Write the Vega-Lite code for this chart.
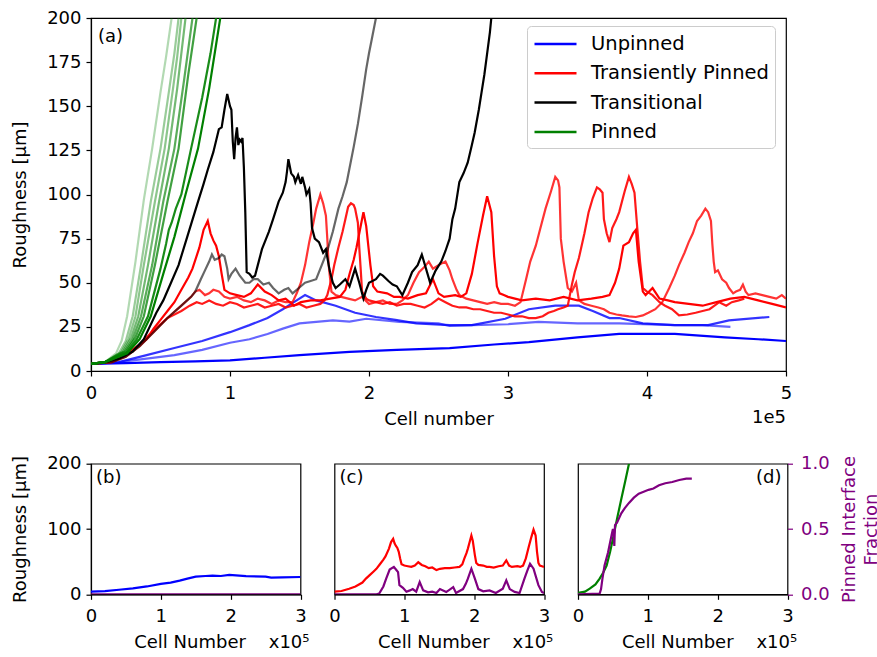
{
"$schema": "https://vega.github.io/schema/vega-lite/v6.json",
"background": "white",
"padding": {"left": 11, "top": 8, "right": 0, "bottom": 0},
"bounds": "flush",
"spacing": 92.7,
"resolve": {"legend": {"color": "independent"}},
"config": {
  "font": "DejaVu Sans",
  "view": {"stroke": "#000000", "strokeWidth": 1.2},
  "axis": {"grid": false, "domainColor": "#000000", "domainWidth": 1.2, "tickColor": "#000000", "tickWidth": 1.2, "tickSize": 5, "labelFontSize": 18, "labelColor": "#000000", "titleFontSize": 18, "titleFontWeight": "normal", "titleColor": "#000000", "labelPadding": 8, "titlePadding": 8, "labelFlush": false, "labelOverlap": false},
  "axisY": {"titlePadding": 17, "labelPadding": 5},
  "text": {"font": "DejaVu Sans", "fontSize": 18, "color": "#000000"},
  "legend": {"labelFontSize": 18, "labelColor": "#000000"}
},
"datasets": {
"a": [
{"s":"B1","c":"Unpinned","x":0,"y":4},{"s":"B1","c":"Unpinned","x":25000,"y":4.5},{"s":"B1","c":"Unpinned","x":50000,"y":5},{"s":"B1","c":"Unpinned","x":75000,"y":5.5},{"s":"B1","c":"Unpinned","x":100000,"y":6},{"s":"B1","c":"Unpinned","x":125000,"y":7.5},{"s":"B1","c":"Unpinned","x":150000,"y":9},{"s":"B1","c":"Unpinned","x":186000,"y":10.8},{"s":"B1","c":"Unpinned","x":220000,"y":12},{"s":"B1","c":"Unpinned","x":258000,"y":13},{"s":"B1","c":"Unpinned","x":290000,"y":15},{"s":"B1","c":"Unpinned","x":315000,"y":16.4},{"s":"B1","c":"Unpinned","x":350000,"y":19},{"s":"B1","c":"Unpinned","x":380000,"y":21},{"s":"B1","c":"Unpinned","x":420000,"y":21},{"s":"B1","c":"Unpinned","x":456000,"y":19},{"s":"B1","c":"Unpinned","x":480000,"y":18},{"s":"B1","c":"Unpinned","x":500000,"y":17},
{"s":"B2","c":"Unpinned","x":0,"y":4},{"s":"B2","c":"Unpinned","x":20000,"y":5},{"s":"B2","c":"Unpinned","x":40000,"y":9},{"s":"B2","c":"Unpinned","x":60000,"y":13},{"s":"B2","c":"Unpinned","x":80000,"y":17},{"s":"B2","c":"Unpinned","x":100000,"y":22},{"s":"B2","c":"Unpinned","x":114000,"y":26},{"s":"B2","c":"Unpinned","x":127000,"y":30},{"s":"B2","c":"Unpinned","x":138000,"y":35},{"s":"B2","c":"Unpinned","x":146000,"y":39},{"s":"B2","c":"Unpinned","x":154000,"y":43},{"s":"B2","c":"Unpinned","x":162000,"y":40},{"s":"B2","c":"Unpinned","x":176000,"y":37},{"s":"B2","c":"Unpinned","x":190000,"y":33},{"s":"B2","c":"Unpinned","x":205000,"y":30.6},{"s":"B2","c":"Unpinned","x":219000,"y":29},{"s":"B2","c":"Unpinned","x":234000,"y":27},{"s":"B2","c":"Unpinned","x":258000,"y":26},{"s":"B2","c":"Unpinned","x":274000,"y":26},{"s":"B2","c":"Unpinned","x":298000,"y":29.6},{"s":"B2","c":"Unpinned","x":315000,"y":35},{"s":"B2","c":"Unpinned","x":334000,"y":37},{"s":"B2","c":"Unpinned","x":351000,"y":37},{"s":"B2","c":"Unpinned","x":361000,"y":34},{"s":"B2","c":"Unpinned","x":373000,"y":30},{"s":"B2","c":"Unpinned","x":380000,"y":30},{"s":"B2","c":"Unpinned","x":397000,"y":27},{"s":"B2","c":"Unpinned","x":420000,"y":26},{"s":"B2","c":"Unpinned","x":444000,"y":26},{"s":"B2","c":"Unpinned","x":459000,"y":28.7},{"s":"B2","c":"Unpinned","x":488000,"y":30.6},
{"s":"B3","c":"Unpinned","x":0,"y":4},{"s":"B3","c":"Unpinned","x":20000,"y":5},{"s":"B3","c":"Unpinned","x":40000,"y":7},{"s":"B3","c":"Unpinned","x":60000,"y":9},{"s":"B3","c":"Unpinned","x":80000,"y":12},{"s":"B3","c":"Unpinned","x":100000,"y":16},{"s":"B3","c":"Unpinned","x":114000,"y":18},{"s":"B3","c":"Unpinned","x":127000,"y":21},{"s":"B3","c":"Unpinned","x":138000,"y":24},{"s":"B3","c":"Unpinned","x":150000,"y":27},{"s":"B3","c":"Unpinned","x":164000,"y":28},{"s":"B3","c":"Unpinned","x":174000,"y":28.7},{"s":"B3","c":"Unpinned","x":186000,"y":28},{"s":"B3","c":"Unpinned","x":198000,"y":29.6},{"s":"B3","c":"Unpinned","x":222000,"y":27.8},{"s":"B3","c":"Unpinned","x":250000,"y":27},{"s":"B3","c":"Unpinned","x":258000,"y":25.5},{"s":"B3","c":"Unpinned","x":274000,"y":26},{"s":"B3","c":"Unpinned","x":300000,"y":26.5},{"s":"B3","c":"Unpinned","x":322000,"y":27.8},{"s":"B3","c":"Unpinned","x":350000,"y":27},{"s":"B3","c":"Unpinned","x":380000,"y":27},{"s":"B3","c":"Unpinned","x":420000,"y":26},{"s":"B3","c":"Unpinned","x":440000,"y":26},{"s":"B3","c":"Unpinned","x":460000,"y":25},
{"s":"RA","c":"Transiently Pinned","x":0,"y":4},{"s":"RA","c":"Transiently Pinned","x":10000,"y":5},{"s":"RA","c":"Transiently Pinned","x":21000,"y":8.6},{"s":"RA","c":"Transiently Pinned","x":30000,"y":12},{"s":"RA","c":"Transiently Pinned","x":40000,"y":18},{"s":"RA","c":"Transiently Pinned","x":45000,"y":24},{"s":"RA","c":"Transiently Pinned","x":50000,"y":29},{"s":"RA","c":"Transiently Pinned","x":56000,"y":35},{"s":"RA","c":"Transiently Pinned","x":60000,"y":39},{"s":"RA","c":"Transiently Pinned","x":65000,"y":46},{"s":"RA","c":"Transiently Pinned","x":70000,"y":53},{"s":"RA","c":"Transiently Pinned","x":73000,"y":58},{"s":"RA","c":"Transiently Pinned","x":78000,"y":70},{"s":"RA","c":"Transiently Pinned","x":81000,"y":80},{"s":"RA","c":"Transiently Pinned","x":84000,"y":85},{"s":"RA","c":"Transiently Pinned","x":86000,"y":78},{"s":"RA","c":"Transiently Pinned","x":88000,"y":74},{"s":"RA","c":"Transiently Pinned","x":90000,"y":71},{"s":"RA","c":"Transiently Pinned","x":92000,"y":65},{"s":"RA","c":"Transiently Pinned","x":94000,"y":55},{"s":"RA","c":"Transiently Pinned","x":96000,"y":46},{"s":"RA","c":"Transiently Pinned","x":100000,"y":44},{"s":"RA","c":"Transiently Pinned","x":105000,"y":43},{"s":"RA","c":"Transiently Pinned","x":110000,"y":42},{"s":"RA","c":"Transiently Pinned","x":115000,"y":44},{"s":"RA","c":"Transiently Pinned","x":120000,"y":49},{"s":"RA","c":"Transiently Pinned","x":125000,"y":45},{"s":"RA","c":"Transiently Pinned","x":130000,"y":43},{"s":"RA","c":"Transiently Pinned","x":135000,"y":40},{"s":"RA","c":"Transiently Pinned","x":140000,"y":41},{"s":"RA","c":"Transiently Pinned","x":146000,"y":37},{"s":"RA","c":"Transiently Pinned","x":151000,"y":39},{"s":"RA","c":"Transiently Pinned","x":158000,"y":40},{"s":"RA","c":"Transiently Pinned","x":165000,"y":40},{"s":"RA","c":"Transiently Pinned","x":172000,"y":41},{"s":"RA","c":"Transiently Pinned","x":179000,"y":42},{"s":"RA","c":"Transiently Pinned","x":183000,"y":46},{"s":"RA","c":"Transiently Pinned","x":186000,"y":55},{"s":"RA","c":"Transiently Pinned","x":189000,"y":63},{"s":"RA","c":"Transiently Pinned","x":191000,"y":70},{"s":"RA","c":"Transiently Pinned","x":194000,"y":82},{"s":"RA","c":"Transiently Pinned","x":196000,"y":90},{"s":"RA","c":"Transiently Pinned","x":198000,"y":82},{"s":"RA","c":"Transiently Pinned","x":201000,"y":60},{"s":"RA","c":"Transiently Pinned","x":203000,"y":48},{"s":"RA","c":"Transiently Pinned","x":206000,"y":45},{"s":"RA","c":"Transiently Pinned","x":213000,"y":44},{"s":"RA","c":"Transiently Pinned","x":218000,"y":42},{"s":"RA","c":"Transiently Pinned","x":222000,"y":42},{"s":"RA","c":"Transiently Pinned","x":228000,"y":41},{"s":"RA","c":"Transiently Pinned","x":235000,"y":43},{"s":"RA","c":"Transiently Pinned","x":241000,"y":44},{"s":"RA","c":"Transiently Pinned","x":246000,"y":52},{"s":"RA","c":"Transiently Pinned","x":250000,"y":44},{"s":"RA","c":"Transiently Pinned","x":254000,"y":42},{"s":"RA","c":"Transiently Pinned","x":262000,"y":43},{"s":"RA","c":"Transiently Pinned","x":266000,"y":42},{"s":"RA","c":"Transiently Pinned","x":270000,"y":44},{"s":"RA","c":"Transiently Pinned","x":274000,"y":55},{"s":"RA","c":"Transiently Pinned","x":278000,"y":72},{"s":"RA","c":"Transiently Pinned","x":282000,"y":88},{"s":"RA","c":"Transiently Pinned","x":285000,"y":99},{"s":"RA","c":"Transiently Pinned","x":288000,"y":90},{"s":"RA","c":"Transiently Pinned","x":290000,"y":65},{"s":"RA","c":"Transiently Pinned","x":292000,"y":48},{"s":"RA","c":"Transiently Pinned","x":294000,"y":44},{"s":"RA","c":"Transiently Pinned","x":297000,"y":43},{"s":"RA","c":"Transiently Pinned","x":300000,"y":42},{"s":"RA","c":"Transiently Pinned","x":305000,"y":41},{"s":"RA","c":"Transiently Pinned","x":310000,"y":40},{"s":"RA","c":"Transiently Pinned","x":320000,"y":41},{"s":"RA","c":"Transiently Pinned","x":330000,"y":40},{"s":"RA","c":"Transiently Pinned","x":340000,"y":42},{"s":"RA","c":"Transiently Pinned","x":350000,"y":40},{"s":"RA","c":"Transiently Pinned","x":360000,"y":41},{"s":"RA","c":"Transiently Pinned","x":368000,"y":42},{"s":"RA","c":"Transiently Pinned","x":373000,"y":43},{"s":"RA","c":"Transiently Pinned","x":377000,"y":50},{"s":"RA","c":"Transiently Pinned","x":380000,"y":58},{"s":"RA","c":"Transiently Pinned","x":383000,"y":71},{"s":"RA","c":"Transiently Pinned","x":387000,"y":73},{"s":"RA","c":"Transiently Pinned","x":390000,"y":78},{"s":"RA","c":"Transiently Pinned","x":392000,"y":80},{"s":"RA","c":"Transiently Pinned","x":394000,"y":62},{"s":"RA","c":"Transiently Pinned","x":397000,"y":45},{"s":"RA","c":"Transiently Pinned","x":399000,"y":43},{"s":"RA","c":"Transiently Pinned","x":404000,"y":47},{"s":"RA","c":"Transiently Pinned","x":409000,"y":41},{"s":"RA","c":"Transiently Pinned","x":415000,"y":40},{"s":"RA","c":"Transiently Pinned","x":420000,"y":39},{"s":"RA","c":"Transiently Pinned","x":430000,"y":38},{"s":"RA","c":"Transiently Pinned","x":440000,"y":37},{"s":"RA","c":"Transiently Pinned","x":450000,"y":39},{"s":"RA","c":"Transiently Pinned","x":460000,"y":41},{"s":"RA","c":"Transiently Pinned","x":470000,"y":42},{"s":"RA","c":"Transiently Pinned","x":480000,"y":40},{"s":"RA","c":"Transiently Pinned","x":490000,"y":38},{"s":"RA","c":"Transiently Pinned","x":500000,"y":36},
{"s":"RB","c":"Transiently Pinned","x":0,"y":4},{"s":"RB","c":"Transiently Pinned","x":15000,"y":5},{"s":"RB","c":"Transiently Pinned","x":25000,"y":8},{"s":"RB","c":"Transiently Pinned","x":35000,"y":14},{"s":"RB","c":"Transiently Pinned","x":45000,"y":22},{"s":"RB","c":"Transiently Pinned","x":55000,"y":30},{"s":"RB","c":"Transiently Pinned","x":65000,"y":37},{"s":"RB","c":"Transiently Pinned","x":72000,"y":42},{"s":"RB","c":"Transiently Pinned","x":75000,"y":45},{"s":"RB","c":"Transiently Pinned","x":78000,"y":46},{"s":"RB","c":"Transiently Pinned","x":82000,"y":43},{"s":"RB","c":"Transiently Pinned","x":85000,"y":44},{"s":"RB","c":"Transiently Pinned","x":88000,"y":46},{"s":"RB","c":"Transiently Pinned","x":92000,"y":45},{"s":"RB","c":"Transiently Pinned","x":96000,"y":42},{"s":"RB","c":"Transiently Pinned","x":100000,"y":41},{"s":"RB","c":"Transiently Pinned","x":105000,"y":42},{"s":"RB","c":"Transiently Pinned","x":110000,"y":40},{"s":"RB","c":"Transiently Pinned","x":115000,"y":39},{"s":"RB","c":"Transiently Pinned","x":120000,"y":41},{"s":"RB","c":"Transiently Pinned","x":125000,"y":40},{"s":"RB","c":"Transiently Pinned","x":130000,"y":38},{"s":"RB","c":"Transiently Pinned","x":135000,"y":40},{"s":"RB","c":"Transiently Pinned","x":140000,"y":39},{"s":"RB","c":"Transiently Pinned","x":145000,"y":39},{"s":"RB","c":"Transiently Pinned","x":148000,"y":44},{"s":"RB","c":"Transiently Pinned","x":151000,"y":50},{"s":"RB","c":"Transiently Pinned","x":154000,"y":60},{"s":"RB","c":"Transiently Pinned","x":157000,"y":73},{"s":"RB","c":"Transiently Pinned","x":160000,"y":84},{"s":"RB","c":"Transiently Pinned","x":162000,"y":92},{"s":"RB","c":"Transiently Pinned","x":165000,"y":100},{"s":"RB","c":"Transiently Pinned","x":167000,"y":95},{"s":"RB","c":"Transiently Pinned","x":169000,"y":88},{"s":"RB","c":"Transiently Pinned","x":170000,"y":75},{"s":"RB","c":"Transiently Pinned","x":171000,"y":60},{"s":"RB","c":"Transiently Pinned","x":173000,"y":45},{"s":"RB","c":"Transiently Pinned","x":176000,"y":43},{"s":"RB","c":"Transiently Pinned","x":180000,"y":42},{"s":"RB","c":"Transiently Pinned","x":185000,"y":41},{"s":"RB","c":"Transiently Pinned","x":190000,"y":40},{"s":"RB","c":"Transiently Pinned","x":195000,"y":42},{"s":"RB","c":"Transiently Pinned","x":200000,"y":38},{"s":"RB","c":"Transiently Pinned","x":205000,"y":39},{"s":"RB","c":"Transiently Pinned","x":210000,"y":40},{"s":"RB","c":"Transiently Pinned","x":215000,"y":38},{"s":"RB","c":"Transiently Pinned","x":220000,"y":38},{"s":"RB","c":"Transiently Pinned","x":224000,"y":40},{"s":"RB","c":"Transiently Pinned","x":228000,"y":43},{"s":"RB","c":"Transiently Pinned","x":232000,"y":50},{"s":"RB","c":"Transiently Pinned","x":236000,"y":56},{"s":"RB","c":"Transiently Pinned","x":240000,"y":59},{"s":"RB","c":"Transiently Pinned","x":243000,"y":62},{"s":"RB","c":"Transiently Pinned","x":246000,"y":58},{"s":"RB","c":"Transiently Pinned","x":250000,"y":60},{"s":"RB","c":"Transiently Pinned","x":255000,"y":62},{"s":"RB","c":"Transiently Pinned","x":258000,"y":57},{"s":"RB","c":"Transiently Pinned","x":260000,"y":52},{"s":"RB","c":"Transiently Pinned","x":263000,"y":46},{"s":"RB","c":"Transiently Pinned","x":265000,"y":43},{"s":"RB","c":"Transiently Pinned","x":270000,"y":41},{"s":"RB","c":"Transiently Pinned","x":275000,"y":40},{"s":"RB","c":"Transiently Pinned","x":280000,"y":39},{"s":"RB","c":"Transiently Pinned","x":285000,"y":38},{"s":"RB","c":"Transiently Pinned","x":290000,"y":39},{"s":"RB","c":"Transiently Pinned","x":295000,"y":38},{"s":"RB","c":"Transiently Pinned","x":300000,"y":38},{"s":"RB","c":"Transiently Pinned","x":305000,"y":37},{"s":"RB","c":"Transiently Pinned","x":309000,"y":39},{"s":"RB","c":"Transiently Pinned","x":313000,"y":52},{"s":"RB","c":"Transiently Pinned","x":316000,"y":62},{"s":"RB","c":"Transiently Pinned","x":320000,"y":71},{"s":"RB","c":"Transiently Pinned","x":323000,"y":80},{"s":"RB","c":"Transiently Pinned","x":327000,"y":92},{"s":"RB","c":"Transiently Pinned","x":331000,"y":102},{"s":"RB","c":"Transiently Pinned","x":334000,"y":110},{"s":"RB","c":"Transiently Pinned","x":336000,"y":108},{"s":"RB","c":"Transiently Pinned","x":337000,"y":104},{"s":"RB","c":"Transiently Pinned","x":338000,"y":75},{"s":"RB","c":"Transiently Pinned","x":340000,"y":62},{"s":"RB","c":"Transiently Pinned","x":343000,"y":47},{"s":"RB","c":"Transiently Pinned","x":346000,"y":45},{"s":"RB","c":"Transiently Pinned","x":349000,"y":50},{"s":"RB","c":"Transiently Pinned","x":351000,"y":40},{"s":"RB","c":"Transiently Pinned","x":355000,"y":38},{"s":"RB","c":"Transiently Pinned","x":360000,"y":37},{"s":"RB","c":"Transiently Pinned","x":365000,"y":36},{"s":"RB","c":"Transiently Pinned","x":369000,"y":35},{"s":"RB","c":"Transiently Pinned","x":373000,"y":33},{"s":"RB","c":"Transiently Pinned","x":378000,"y":32},{"s":"RB","c":"Transiently Pinned","x":382000,"y":31.5},{"s":"RB","c":"Transiently Pinned","x":387000,"y":31},{"s":"RB","c":"Transiently Pinned","x":392000,"y":30.6},{"s":"RB","c":"Transiently Pinned","x":397000,"y":31.5},{"s":"RB","c":"Transiently Pinned","x":401000,"y":33},{"s":"RB","c":"Transiently Pinned","x":406000,"y":35},{"s":"RB","c":"Transiently Pinned","x":411000,"y":39},{"s":"RB","c":"Transiently Pinned","x":416000,"y":47},{"s":"RB","c":"Transiently Pinned","x":420000,"y":54},{"s":"RB","c":"Transiently Pinned","x":423000,"y":60},{"s":"RB","c":"Transiently Pinned","x":427000,"y":67},{"s":"RB","c":"Transiently Pinned","x":430000,"y":73},{"s":"RB","c":"Transiently Pinned","x":433000,"y":78},{"s":"RB","c":"Transiently Pinned","x":436000,"y":85},{"s":"RB","c":"Transiently Pinned","x":439000,"y":88},{"s":"RB","c":"Transiently Pinned","x":442000,"y":92},{"s":"RB","c":"Transiently Pinned","x":444000,"y":90},{"s":"RB","c":"Transiently Pinned","x":446000,"y":85},{"s":"RB","c":"Transiently Pinned","x":447000,"y":72},{"s":"RB","c":"Transiently Pinned","x":448000,"y":62},{"s":"RB","c":"Transiently Pinned","x":449000,"y":56},{"s":"RB","c":"Transiently Pinned","x":451000,"y":57},{"s":"RB","c":"Transiently Pinned","x":454000,"y":52},{"s":"RB","c":"Transiently Pinned","x":457000,"y":50},{"s":"RB","c":"Transiently Pinned","x":459000,"y":47},{"s":"RB","c":"Transiently Pinned","x":462000,"y":44},{"s":"RB","c":"Transiently Pinned","x":464000,"y":45},{"s":"RB","c":"Transiently Pinned","x":467000,"y":46},{"s":"RB","c":"Transiently Pinned","x":469000,"y":49},{"s":"RB","c":"Transiently Pinned","x":471000,"y":45},{"s":"RB","c":"Transiently Pinned","x":473000,"y":43},{"s":"RB","c":"Transiently Pinned","x":478000,"y":44},{"s":"RB","c":"Transiently Pinned","x":483000,"y":43},{"s":"RB","c":"Transiently Pinned","x":488000,"y":42},{"s":"RB","c":"Transiently Pinned","x":493000,"y":41},{"s":"RB","c":"Transiently Pinned","x":497000,"y":43},{"s":"RB","c":"Transiently Pinned","x":500000,"y":41},
{"s":"RC","c":"Transiently Pinned","x":0,"y":4},{"s":"RC","c":"Transiently Pinned","x":15000,"y":5},{"s":"RC","c":"Transiently Pinned","x":25000,"y":9},{"s":"RC","c":"Transiently Pinned","x":35000,"y":15},{"s":"RC","c":"Transiently Pinned","x":45000,"y":23},{"s":"RC","c":"Transiently Pinned","x":55000,"y":30},{"s":"RC","c":"Transiently Pinned","x":65000,"y":34},{"s":"RC","c":"Transiently Pinned","x":71000,"y":37},{"s":"RC","c":"Transiently Pinned","x":76000,"y":39},{"s":"RC","c":"Transiently Pinned","x":80000,"y":38},{"s":"RC","c":"Transiently Pinned","x":85000,"y":40},{"s":"RC","c":"Transiently Pinned","x":90000,"y":38},{"s":"RC","c":"Transiently Pinned","x":95000,"y":37},{"s":"RC","c":"Transiently Pinned","x":100000,"y":39},{"s":"RC","c":"Transiently Pinned","x":105000,"y":38},{"s":"RC","c":"Transiently Pinned","x":110000,"y":36},{"s":"RC","c":"Transiently Pinned","x":115000,"y":37},{"s":"RC","c":"Transiently Pinned","x":120000,"y":38},{"s":"RC","c":"Transiently Pinned","x":125000,"y":36},{"s":"RC","c":"Transiently Pinned","x":130000,"y":37},{"s":"RC","c":"Transiently Pinned","x":135000,"y":38},{"s":"RC","c":"Transiently Pinned","x":140000,"y":36},{"s":"RC","c":"Transiently Pinned","x":145000,"y":37},{"s":"RC","c":"Transiently Pinned","x":150000,"y":38},{"s":"RC","c":"Transiently Pinned","x":155000,"y":36},{"s":"RC","c":"Transiently Pinned","x":160000,"y":37},{"s":"RC","c":"Transiently Pinned","x":165000,"y":38},{"s":"RC","c":"Transiently Pinned","x":168000,"y":40},{"s":"RC","c":"Transiently Pinned","x":170000,"y":43},{"s":"RC","c":"Transiently Pinned","x":173000,"y":52},{"s":"RC","c":"Transiently Pinned","x":175000,"y":60},{"s":"RC","c":"Transiently Pinned","x":178000,"y":70},{"s":"RC","c":"Transiently Pinned","x":181000,"y":79},{"s":"RC","c":"Transiently Pinned","x":183000,"y":86},{"s":"RC","c":"Transiently Pinned","x":185000,"y":93},{"s":"RC","c":"Transiently Pinned","x":187000,"y":95},{"s":"RC","c":"Transiently Pinned","x":189000,"y":94},{"s":"RC","c":"Transiently Pinned","x":190000,"y":92},{"s":"RC","c":"Transiently Pinned","x":192000,"y":84},{"s":"RC","c":"Transiently Pinned","x":193000,"y":70},{"s":"RC","c":"Transiently Pinned","x":194000,"y":58},{"s":"RC","c":"Transiently Pinned","x":195000,"y":45},{"s":"RC","c":"Transiently Pinned","x":198000,"y":41},{"s":"RC","c":"Transiently Pinned","x":200000,"y":40},{"s":"RC","c":"Transiently Pinned","x":205000,"y":39},{"s":"RC","c":"Transiently Pinned","x":210000,"y":38},{"s":"RC","c":"Transiently Pinned","x":215000,"y":39},{"s":"RC","c":"Transiently Pinned","x":220000,"y":37},{"s":"RC","c":"Transiently Pinned","x":225000,"y":38},{"s":"RC","c":"Transiently Pinned","x":230000,"y":38},{"s":"RC","c":"Transiently Pinned","x":235000,"y":37},{"s":"RC","c":"Transiently Pinned","x":240000,"y":36},{"s":"RC","c":"Transiently Pinned","x":245000,"y":38},{"s":"RC","c":"Transiently Pinned","x":250000,"y":41},{"s":"RC","c":"Transiently Pinned","x":255000,"y":39},{"s":"RC","c":"Transiently Pinned","x":260000,"y":37},{"s":"RC","c":"Transiently Pinned","x":265000,"y":36},{"s":"RC","c":"Transiently Pinned","x":270000,"y":36},{"s":"RC","c":"Transiently Pinned","x":275000,"y":35},{"s":"RC","c":"Transiently Pinned","x":280000,"y":35},{"s":"RC","c":"Transiently Pinned","x":285000,"y":34},{"s":"RC","c":"Transiently Pinned","x":290000,"y":33},{"s":"RC","c":"Transiently Pinned","x":295000,"y":33},{"s":"RC","c":"Transiently Pinned","x":300000,"y":32},{"s":"RC","c":"Transiently Pinned","x":305000,"y":31},{"s":"RC","c":"Transiently Pinned","x":310000,"y":31},{"s":"RC","c":"Transiently Pinned","x":315000,"y":30},{"s":"RC","c":"Transiently Pinned","x":320000,"y":30},{"s":"RC","c":"Transiently Pinned","x":325000,"y":31},{"s":"RC","c":"Transiently Pinned","x":329000,"y":33},{"s":"RC","c":"Transiently Pinned","x":333000,"y":34},{"s":"RC","c":"Transiently Pinned","x":336000,"y":35},{"s":"RC","c":"Transiently Pinned","x":340000,"y":36},{"s":"RC","c":"Transiently Pinned","x":343000,"y":37},{"s":"RC","c":"Transiently Pinned","x":346000,"y":49},{"s":"RC","c":"Transiently Pinned","x":348000,"y":56},{"s":"RC","c":"Transiently Pinned","x":351000,"y":64},{"s":"RC","c":"Transiently Pinned","x":355000,"y":78},{"s":"RC","c":"Transiently Pinned","x":358000,"y":90},{"s":"RC","c":"Transiently Pinned","x":361000,"y":98},{"s":"RC","c":"Transiently Pinned","x":364000,"y":104},{"s":"RC","c":"Transiently Pinned","x":366000,"y":103},{"s":"RC","c":"Transiently Pinned","x":368000,"y":101},{"s":"RC","c":"Transiently Pinned","x":369000,"y":86},{"s":"RC","c":"Transiently Pinned","x":371000,"y":78},{"s":"RC","c":"Transiently Pinned","x":373000,"y":73},{"s":"RC","c":"Transiently Pinned","x":375000,"y":81},{"s":"RC","c":"Transiently Pinned","x":378000,"y":86},{"s":"RC","c":"Transiently Pinned","x":380000,"y":90},{"s":"RC","c":"Transiently Pinned","x":382000,"y":96},{"s":"RC","c":"Transiently Pinned","x":384000,"y":102},{"s":"RC","c":"Transiently Pinned","x":387000,"y":110},{"s":"RC","c":"Transiently Pinned","x":389000,"y":106},{"s":"RC","c":"Transiently Pinned","x":391000,"y":101},{"s":"RC","c":"Transiently Pinned","x":393000,"y":81},{"s":"RC","c":"Transiently Pinned","x":395000,"y":62},{"s":"RC","c":"Transiently Pinned","x":397000,"y":47},{"s":"RC","c":"Transiently Pinned","x":400000,"y":45},{"s":"RC","c":"Transiently Pinned","x":404000,"y":43},{"s":"RC","c":"Transiently Pinned","x":409000,"y":39},{"s":"RC","c":"Transiently Pinned","x":413000,"y":37},{"s":"RC","c":"Transiently Pinned","x":418000,"y":35},{"s":"RC","c":"Transiently Pinned","x":423000,"y":31.5},{"s":"RC","c":"Transiently Pinned","x":429000,"y":32},{"s":"RC","c":"Transiently Pinned","x":435000,"y":33},{"s":"RC","c":"Transiently Pinned","x":440000,"y":34},{"s":"RC","c":"Transiently Pinned","x":445000,"y":35},{"s":"RC","c":"Transiently Pinned","x":452000,"y":39},{"s":"RC","c":"Transiently Pinned","x":457000,"y":37},{"s":"RC","c":"Transiently Pinned","x":461000,"y":39},{"s":"RC","c":"Transiently Pinned","x":466000,"y":40},{"s":"RC","c":"Transiently Pinned","x":470000,"y":41},
{"s":"K2","c":"Transitional","x":0,"y":4},{"s":"K2","c":"Transitional","x":15000,"y":5},{"s":"K2","c":"Transitional","x":25000,"y":8},{"s":"K2","c":"Transitional","x":35000,"y":14},{"s":"K2","c":"Transitional","x":45000,"y":22},{"s":"K2","c":"Transitional","x":55000,"y":30},{"s":"K2","c":"Transitional","x":65000,"y":37},{"s":"K2","c":"Transitional","x":72000,"y":42},{"s":"K2","c":"Transitional","x":75000,"y":45},{"s":"K2","c":"Transitional","x":79000,"y":52},{"s":"K2","c":"Transitional","x":82000,"y":57},{"s":"K2","c":"Transitional","x":85000,"y":62},{"s":"K2","c":"Transitional","x":87000,"y":66},{"s":"K2","c":"Transitional","x":89000,"y":63},{"s":"K2","c":"Transitional","x":92000,"y":64},{"s":"K2","c":"Transitional","x":94000,"y":66},{"s":"K2","c":"Transitional","x":96000,"y":65},{"s":"K2","c":"Transitional","x":98000,"y":58},{"s":"K2","c":"Transitional","x":99000,"y":52},{"s":"K2","c":"Transitional","x":101000,"y":55},{"s":"K2","c":"Transitional","x":104000,"y":58},{"s":"K2","c":"Transitional","x":107000,"y":54},{"s":"K2","c":"Transitional","x":111000,"y":50},{"s":"K2","c":"Transitional","x":114000,"y":50},{"s":"K2","c":"Transitional","x":117000,"y":52},{"s":"K2","c":"Transitional","x":120000,"y":52},{"s":"K2","c":"Transitional","x":124000,"y":49},{"s":"K2","c":"Transitional","x":128000,"y":50},{"s":"K2","c":"Transitional","x":131000,"y":47},{"s":"K2","c":"Transitional","x":135000,"y":44},{"s":"K2","c":"Transitional","x":139000,"y":46},{"s":"K2","c":"Transitional","x":142000,"y":47},{"s":"K2","c":"Transitional","x":145000,"y":44},{"s":"K2","c":"Transitional","x":148000,"y":46},{"s":"K2","c":"Transitional","x":151000,"y":48},{"s":"K2","c":"Transitional","x":154000,"y":50},{"s":"K2","c":"Transitional","x":158000,"y":51},{"s":"K2","c":"Transitional","x":162000,"y":52},{"s":"K2","c":"Transitional","x":164000,"y":56},{"s":"K2","c":"Transitional","x":166000,"y":60},{"s":"K2","c":"Transitional","x":170000,"y":68},{"s":"K2","c":"Transitional","x":174000,"y":79},{"s":"K2","c":"Transitional","x":178000,"y":92},{"s":"K2","c":"Transitional","x":181000,"y":99},{"s":"K2","c":"Transitional","x":184000,"y":107},{"s":"K2","c":"Transitional","x":186000,"y":115},{"s":"K2","c":"Transitional","x":189000,"y":127},{"s":"K2","c":"Transitional","x":192000,"y":140},{"s":"K2","c":"Transitional","x":195000,"y":155},{"s":"K2","c":"Transitional","x":198000,"y":171},{"s":"K2","c":"Transitional","x":200000,"y":180},{"s":"K2","c":"Transitional","x":202000,"y":188},{"s":"K2","c":"Transitional","x":205000,"y":200},
{"s":"K1","c":"Transitional","x":0,"y":4},{"s":"K1","c":"Transitional","x":10000,"y":5},{"s":"K1","c":"Transitional","x":20000,"y":7},{"s":"K1","c":"Transitional","x":30000,"y":11},{"s":"K1","c":"Transitional","x":38000,"y":18},{"s":"K1","c":"Transitional","x":47000,"y":33},{"s":"K1","c":"Transitional","x":52000,"y":40},{"s":"K1","c":"Transitional","x":57000,"y":49},{"s":"K1","c":"Transitional","x":63000,"y":60},{"s":"K1","c":"Transitional","x":70000,"y":78},{"s":"K1","c":"Transitional","x":77000,"y":96},{"s":"K1","c":"Transitional","x":81000,"y":106},{"s":"K1","c":"Transitional","x":84000,"y":114},{"s":"K1","c":"Transitional","x":88000,"y":124},{"s":"K1","c":"Transitional","x":92000,"y":137},{"s":"K1","c":"Transitional","x":94000,"y":138},{"s":"K1","c":"Transitional","x":96000,"y":148},{"s":"K1","c":"Transitional","x":98000,"y":157},{"s":"K1","c":"Transitional","x":100000,"y":150},{"s":"K1","c":"Transitional","x":101000,"y":148},{"s":"K1","c":"Transitional","x":102000,"y":130},{"s":"K1","c":"Transitional","x":103000,"y":120},{"s":"K1","c":"Transitional","x":104000,"y":132},{"s":"K1","c":"Transitional","x":105000,"y":138},{"s":"K1","c":"Transitional","x":106000,"y":128},{"s":"K1","c":"Transitional","x":107000,"y":131},{"s":"K1","c":"Transitional","x":108000,"y":130},{"s":"K1","c":"Transitional","x":109000,"y":132},{"s":"K1","c":"Transitional","x":110000,"y":115},{"s":"K1","c":"Transitional","x":111000,"y":90},{"s":"K1","c":"Transitional","x":112000,"y":56},{"s":"K1","c":"Transitional","x":114000,"y":55},{"s":"K1","c":"Transitional","x":116000,"y":53},{"s":"K1","c":"Transitional","x":118000,"y":54},{"s":"K1","c":"Transitional","x":120000,"y":60},{"s":"K1","c":"Transitional","x":123000,"y":69},{"s":"K1","c":"Transitional","x":126000,"y":75},{"s":"K1","c":"Transitional","x":128000,"y":79},{"s":"K1","c":"Transitional","x":131000,"y":86},{"s":"K1","c":"Transitional","x":135000,"y":96},{"s":"K1","c":"Transitional","x":138000,"y":101},{"s":"K1","c":"Transitional","x":140000,"y":107},{"s":"K1","c":"Transitional","x":141000,"y":113},{"s":"K1","c":"Transitional","x":142000,"y":120},{"s":"K1","c":"Transitional","x":143000,"y":116},{"s":"K1","c":"Transitional","x":144000,"y":112},{"s":"K1","c":"Transitional","x":146000,"y":110},{"s":"K1","c":"Transitional","x":147000,"y":107},{"s":"K1","c":"Transitional","x":149000,"y":111},{"s":"K1","c":"Transitional","x":151000,"y":106},{"s":"K1","c":"Transitional","x":152000,"y":110},{"s":"K1","c":"Transitional","x":154000,"y":104},{"s":"K1","c":"Transitional","x":155000,"y":100},{"s":"K1","c":"Transitional","x":157000,"y":103},{"s":"K1","c":"Transitional","x":158000,"y":95},{"s":"K1","c":"Transitional","x":159000,"y":81},{"s":"K1","c":"Transitional","x":161000,"y":75},{"s":"K1","c":"Transitional","x":164000,"y":73},{"s":"K1","c":"Transitional","x":167000,"y":67},{"s":"K1","c":"Transitional","x":169000,"y":69},{"s":"K1","c":"Transitional","x":171000,"y":60},{"s":"K1","c":"Transitional","x":172000,"y":56},{"s":"K1","c":"Transitional","x":174000,"y":50},{"s":"K1","c":"Transitional","x":176000,"y":47},{"s":"K1","c":"Transitional","x":179000,"y":49},{"s":"K1","c":"Transitional","x":183000,"y":52},{"s":"K1","c":"Transitional","x":186000,"y":48},{"s":"K1","c":"Transitional","x":190000,"y":58},{"s":"K1","c":"Transitional","x":193000,"y":50},{"s":"K1","c":"Transitional","x":196000,"y":41},{"s":"K1","c":"Transitional","x":198000,"y":46},{"s":"K1","c":"Transitional","x":200000,"y":50},{"s":"K1","c":"Transitional","x":205000,"y":52},{"s":"K1","c":"Transitional","x":208000,"y":55},{"s":"K1","c":"Transitional","x":210000,"y":54},{"s":"K1","c":"Transitional","x":214000,"y":51},{"s":"K1","c":"Transitional","x":217000,"y":49},{"s":"K1","c":"Transitional","x":220000,"y":48},{"s":"K1","c":"Transitional","x":224000,"y":43},{"s":"K1","c":"Transitional","x":228000,"y":50},{"s":"K1","c":"Transitional","x":231000,"y":56},{"s":"K1","c":"Transitional","x":235000,"y":60},{"s":"K1","c":"Transitional","x":238000,"y":66},{"s":"K1","c":"Transitional","x":241000,"y":58},{"s":"K1","c":"Transitional","x":244000,"y":50},{"s":"K1","c":"Transitional","x":248000,"y":57},{"s":"K1","c":"Transitional","x":252000,"y":62},{"s":"K1","c":"Transitional","x":255000,"y":68},{"s":"K1","c":"Transitional","x":258000,"y":75},{"s":"K1","c":"Transitional","x":260000,"y":86},{"s":"K1","c":"Transitional","x":262000,"y":92},{"s":"K1","c":"Transitional","x":265000,"y":107},{"s":"K1","c":"Transitional","x":268000,"y":112},{"s":"K1","c":"Transitional","x":271000,"y":118},{"s":"K1","c":"Transitional","x":274000,"y":128},{"s":"K1","c":"Transitional","x":276000,"y":135},{"s":"K1","c":"Transitional","x":279000,"y":148},{"s":"K1","c":"Transitional","x":281000,"y":158},{"s":"K1","c":"Transitional","x":283000,"y":168},{"s":"K1","c":"Transitional","x":285000,"y":180},{"s":"K1","c":"Transitional","x":287000,"y":192},{"s":"K1","c":"Transitional","x":288000,"y":200},
{"s":"G1","c":"Pinned","x":0,"y":4},{"s":"G1","c":"Pinned","x":10000,"y":5},{"s":"G1","c":"Pinned","x":18000,"y":10},{"s":"G1","c":"Pinned","x":22000,"y":17},{"s":"G1","c":"Pinned","x":26000,"y":31},{"s":"G1","c":"Pinned","x":32000,"y":62},{"s":"G1","c":"Pinned","x":38000,"y":97},{"s":"G1","c":"Pinned","x":44000,"y":126},{"s":"G1","c":"Pinned","x":50000,"y":158},{"s":"G1","c":"Pinned","x":54000,"y":178},{"s":"G1","c":"Pinned","x":58000,"y":200},
{"s":"G2","c":"Pinned","x":0,"y":4},{"s":"G2","c":"Pinned","x":10000,"y":5},{"s":"G2","c":"Pinned","x":20000,"y":10},{"s":"G2","c":"Pinned","x":25000,"y":17},{"s":"G2","c":"Pinned","x":30000,"y":31},{"s":"G2","c":"Pinned","x":36000,"y":60},{"s":"G2","c":"Pinned","x":43000,"y":96},{"s":"G2","c":"Pinned","x":50000,"y":126},{"s":"G2","c":"Pinned","x":56000,"y":158},{"s":"G2","c":"Pinned","x":60000,"y":180},{"s":"G2","c":"Pinned","x":63000,"y":200},
{"s":"G3","c":"Pinned","x":0,"y":4},{"s":"G3","c":"Pinned","x":10000,"y":5},{"s":"G3","c":"Pinned","x":22000,"y":11},{"s":"G3","c":"Pinned","x":27000,"y":18},{"s":"G3","c":"Pinned","x":32000,"y":31},{"s":"G3","c":"Pinned","x":38000,"y":60},{"s":"G3","c":"Pinned","x":46000,"y":96},{"s":"G3","c":"Pinned","x":53000,"y":126},{"s":"G3","c":"Pinned","x":59000,"y":160},{"s":"G3","c":"Pinned","x":62000,"y":178},{"s":"G3","c":"Pinned","x":65000,"y":200},
{"s":"G4","c":"Pinned","x":0,"y":4},{"s":"G4","c":"Pinned","x":10000,"y":5},{"s":"G4","c":"Pinned","x":23000,"y":11},{"s":"G4","c":"Pinned","x":29000,"y":19},{"s":"G4","c":"Pinned","x":34000,"y":31},{"s":"G4","c":"Pinned","x":41000,"y":60},{"s":"G4","c":"Pinned","x":49000,"y":96},{"s":"G4","c":"Pinned","x":56000,"y":126},{"s":"G4","c":"Pinned","x":62000,"y":160},{"s":"G4","c":"Pinned","x":65000,"y":180},{"s":"G4","c":"Pinned","x":68000,"y":200},
{"s":"G5","c":"Pinned","x":0,"y":4},{"s":"G5","c":"Pinned","x":10000,"y":5},{"s":"G5","c":"Pinned","x":24000,"y":11},{"s":"G5","c":"Pinned","x":30000,"y":18},{"s":"G5","c":"Pinned","x":36000,"y":31},{"s":"G5","c":"Pinned","x":44000,"y":60},{"s":"G5","c":"Pinned","x":52000,"y":96},{"s":"G5","c":"Pinned","x":60000,"y":126},{"s":"G5","c":"Pinned","x":67000,"y":165},{"s":"G5","c":"Pinned","x":73000,"y":200},
{"s":"G6","c":"Pinned","x":0,"y":4},{"s":"G6","c":"Pinned","x":10000,"y":5},{"s":"G6","c":"Pinned","x":25000,"y":11},{"s":"G6","c":"Pinned","x":32000,"y":19},{"s":"G6","c":"Pinned","x":38000,"y":31},{"s":"G6","c":"Pinned","x":46000,"y":60},{"s":"G6","c":"Pinned","x":55000,"y":96},{"s":"G6","c":"Pinned","x":63000,"y":126},{"s":"G6","c":"Pinned","x":70000,"y":168},{"s":"G6","c":"Pinned","x":76000,"y":200},
{"s":"G7","c":"Pinned","x":0,"y":4},{"s":"G7","c":"Pinned","x":10000,"y":5},{"s":"G7","c":"Pinned","x":25000,"y":10},{"s":"G7","c":"Pinned","x":33000,"y":18},{"s":"G7","c":"Pinned","x":41000,"y":31},{"s":"G7","c":"Pinned","x":50000,"y":58},{"s":"G7","c":"Pinned","x":54000,"y":72},{"s":"G7","c":"Pinned","x":56000,"y":80},{"s":"G7","c":"Pinned","x":58000,"y":84},{"s":"G7","c":"Pinned","x":61000,"y":92},{"s":"G7","c":"Pinned","x":65000,"y":100},{"s":"G7","c":"Pinned","x":72000,"y":126},{"s":"G7","c":"Pinned","x":80000,"y":155},{"s":"G7","c":"Pinned","x":86000,"y":180},{"s":"G7","c":"Pinned","x":90000,"y":200},
{"s":"G8","c":"Pinned","x":0,"y":4},{"s":"G8","c":"Pinned","x":10000,"y":5},{"s":"G8","c":"Pinned","x":26000,"y":10},{"s":"G8","c":"Pinned","x":35000,"y":18},{"s":"G8","c":"Pinned","x":43000,"y":31},{"s":"G8","c":"Pinned","x":52000,"y":55},{"s":"G8","c":"Pinned","x":60000,"y":76},{"s":"G8","c":"Pinned","x":68000,"y":100},{"s":"G8","c":"Pinned","x":77000,"y":126},{"s":"G8","c":"Pinned","x":85000,"y":160},{"s":"G8","c":"Pinned","x":90000,"y":185},{"s":"G8","c":"Pinned","x":93000,"y":200}
],
"pb": [{"x":0,"f":0},{"x":300000,"f":0}],
"pc": [{"x":0,"f":0},{"x":60000,"f":0},{"x":64000,"f":0.005},{"x":70000,"f":0.06},{"x":74000,"f":0.12},{"x":79000,"f":0.19},{"x":85000,"f":0.21},{"x":88000,"f":0.19},{"x":91000,"f":0.17},{"x":93000,"f":0.07},{"x":98000,"f":0.05},{"x":103000,"f":0.02},{"x":108000,"f":0.03},{"x":112000,"f":0.04},{"x":117000,"f":0.02},{"x":122000,"f":0.094},{"x":127000,"f":0.03},{"x":134000,"f":0.015},{"x":140000,"f":0.02},{"x":146000,"f":0.01},{"x":151000,"f":0.04},{"x":160000,"f":0.017},{"x":170000,"f":0.055},{"x":174000,"f":0.01},{"x":184000,"f":0.04},{"x":188000,"f":0.08},{"x":191000,"f":0.12},{"x":196000,"f":0.196},{"x":201000,"f":0.12},{"x":206000,"f":0.04},{"x":213000,"f":0.023},{"x":222000,"f":0.03},{"x":231000,"f":0.01},{"x":241000,"f":0.043},{"x":246000,"f":0.107},{"x":251000,"f":0.04},{"x":258000,"f":0.018},{"x":265000,"f":0.01},{"x":272000,"f":0.12},{"x":276000,"f":0.18},{"x":280000,"f":0.234},{"x":285000,"f":0.196},{"x":292000,"f":0.07},{"x":297000,"f":0.018},{"x":300000,"f":0.01}],
"gd": [{"x":0,"y":2},{"x":10000,"y":4},{"x":16800,"y":8.6},{"x":25000,"y":15},{"x":31000,"y":24},{"x":36000,"y":33},{"x":41000,"y":44},{"x":46000,"y":65},{"x":50000,"y":85},{"x":56000,"y":116},{"x":62000,"y":146},{"x":68000,"y":175},{"x":73000,"y":200}],
"pd": [{"x":0,"f":0},{"x":31000,"f":0.005},{"x":33000,"f":0.04},{"x":35000,"f":0.12},{"x":38000,"f":0.22},{"x":43000,"f":0.32},{"x":48000,"f":0.45},{"x":50000,"f":0.5},{"x":51000,"f":0.47},{"x":52000,"f":0.37},{"x":53000,"f":0.53},{"x":56000,"f":0.55},{"x":62000,"f":0.62},{"x":67000,"f":0.66},{"x":73000,"f":0.7},{"x":80000,"f":0.74},{"x":87000,"f":0.77},{"x":94000,"f":0.785},{"x":101000,"f":0.8},{"x":108000,"f":0.81},{"x":116000,"f":0.835},{"x":125000,"f":0.85},{"x":135000,"f":0.86},{"x":145000,"f":0.875},{"x":155000,"f":0.885},{"x":163000,"f":0.885}]
},
"vconcat": [
{
 "width": 695, "height": 353,
 "layer": [
  {"data": {"name": "a"},
   "mark": {"type": "line", "clip": true, "strokeWidth": 2.2},
   "encoding": {
    "x": {"field": "x", "type": "quantitative", "scale": {"domain": [0, 500000], "nice": false, "zero": false}, "axis": {"values": [0,100000,200000,300000,400000,500000], "labelExpr": "datum.value/100000", "title": "Cell number"}},
    "y": {"field": "y", "type": "quantitative", "scale": {"domain": [0, 200], "nice": false}, "axis": {"values": [0,25,50,75,100,125,150,175,200], "title": "Roughness [μm]"}},
    "color": {"field": "c", "type": "nominal", "scale": {"domain": ["Unpinned","Transiently Pinned","Transitional","Pinned"], "range": ["#0000ff","#ff0000","#000000","#008000"]},
      "legend": {"title": null, "orient": "none", "legendX": 436, "legendY": 8, "symbolType": "M-1,0L3,0", "symbolSize": 441, "symbolStrokeWidth": 2.5, "labelFontSize": 19.5, "labelOffset": 34, "rowPadding": 7.3, "padding": 6, "fillColor": "rgba(255,255,255,0.8)", "strokeColor": "#cccccc", "cornerRadius": 4, "labelLimit": 400}},
    "opacity": {"field": "s", "type": "nominal", "scale": {"type": "ordinal", "domain": ["B1","B2","B3","RA","RB","RC","K1","K2","G1","G2","G3","G4","G5","G6","G7","G8"], "range": [1,0.8,0.6,1,0.8,0.9,1,0.6,0.3,0.4,0.45,0.55,0.65,0.75,0.9,1]}, "legend": null},
    "detail": {"field": "s", "type": "nominal"}
   }},
  {"data": {"values": [{}]},
   "mark": {"type": "text", "align": "left", "baseline": "top", "dx": 7, "dy": 10},
   "encoding": {"x": {"datum": 0, "type": "quantitative"}, "y": {"datum": 200, "type": "quantitative"}, "text": {"value": "(a)"}}},
  {"data": {"values": [{}]},
   "mark": {"type": "text", "align": "right", "baseline": "top", "dx": 0, "dy": 38},
   "encoding": {"x": {"datum": 500000, "type": "quantitative"}, "y": {"datum": 0, "type": "quantitative"}, "text": {"value": "1e5"}}}
 ]
},
{
 "hconcat": [
  {
   "width": 209.5, "height": 130.6,
   "layer": [
    {"data": {"name": "a"},
     "transform": [{"filter": {"field": "s", "equal": "B3"}}, {"filter": {"field": "x", "lte": 300000}}],
     "mark": {"type": "line", "color": "#0000ff", "strokeWidth": 2.2, "clip": true},
     "encoding": {
      "x": {"field": "x", "type": "quantitative", "scale": {"domain": [0, 300000], "nice": false, "zero": false}, "axis": {"values": [0,100000,200000,300000], "labelExpr": "datum.value/100000", "title": "Cell Number\u00a0\u00a0\u00a0\u00a0x10⁵", "titleX": 42.7, "titleAlign": "left"}},
      "y": {"field": "y", "type": "quantitative", "scale": {"domain": [0, 200], "nice": false}, "axis": {"values": [0,100,200], "title": "Roughness [μm]"}}}},
    {"data": {"name": "pb"},
     "mark": {"type": "line", "color": "#800080", "strokeWidth": 2.2, "clip": true},
     "encoding": {"x": {"field": "x", "type": "quantitative"}, "y": {"field": "f", "type": "quantitative", "scale": {"domain": [0, 1], "nice": false}, "axis": null}}},
    {"data": {"values": [{}]},
     "mark": {"type": "text", "align": "left", "baseline": "top", "dx": 5, "dy": 5},
     "encoding": {"x": {"datum": 0, "type": "quantitative"}, "y": {"datum": 1, "type": "quantitative", "scale": {"domain": [0, 1], "nice": false}, "axis": null}, "text": {"value": "(b)"}}}
   ],
   "resolve": {"scale": {"y": "independent"}}
  },
  {
   "width": 209.5, "height": 130.6,
   "layer": [
    {"data": {"name": "a"},
     "transform": [{"filter": {"field": "s", "equal": "RA"}}, {"filter": {"field": "x", "lte": 300000}}],
     "mark": {"type": "line", "color": "#ff0000", "strokeWidth": 2.2, "clip": true},
     "encoding": {
      "x": {"field": "x", "type": "quantitative", "scale": {"domain": [0, 300000], "nice": false, "zero": false}, "axis": {"values": [0,100000,200000,300000], "labelExpr": "datum.value/100000", "title": "Cell Number\u00a0\u00a0\u00a0\u00a0x10⁵", "titleX": 43, "titleAlign": "left"}},
      "y": {"field": "y", "type": "quantitative", "scale": {"domain": [0, 200], "nice": false}, "axis": null}}},
    {"data": {"name": "pc"},
     "mark": {"type": "line", "color": "#800080", "strokeWidth": 2.2, "clip": true},
     "encoding": {"x": {"field": "x", "type": "quantitative"}, "y": {"field": "f", "type": "quantitative", "scale": {"domain": [0, 1], "nice": false}, "axis": null}}},
    {"data": {"values": [{}]},
     "mark": {"type": "text", "align": "left", "baseline": "top", "dx": 5, "dy": 5},
     "encoding": {"x": {"datum": 0, "type": "quantitative"}, "y": {"datum": 1, "type": "quantitative", "scale": {"domain": [0, 1], "nice": false}, "axis": null}, "text": {"value": "(c)"}}}
   ],
   "resolve": {"scale": {"y": "independent"}}
  },
  {
   "width": 209.5, "height": 130.6,
   "layer": [
    {"data": {"name": "gd"},
     "mark": {"type": "line", "color": "#008000", "strokeWidth": 2.2, "clip": true},
     "encoding": {
      "x": {"field": "x", "type": "quantitative", "scale": {"domain": [0, 300000], "nice": false, "zero": false}, "axis": {"values": [0,100000,200000,300000], "labelExpr": "datum.value/100000", "title": "Cell Number\u00a0\u00a0\u00a0\u00a0x10⁵", "titleX": 43.4, "titleAlign": "left"}},
      "y": {"field": "y", "type": "quantitative", "scale": {"domain": [0, 200], "nice": false}, "axis": null}}},
    {"data": {"name": "pd"},
     "mark": {"type": "line", "color": "#800080", "strokeWidth": 2.2, "clip": true},
     "encoding": {"x": {"field": "x", "type": "quantitative"}, "y": {"field": "f", "type": "quantitative", "scale": {"domain": [0, 1], "nice": false},
       "axis": {"orient": "right", "values": [0, 0.5, 1], "format": ".1f", "labelColor": "#800080", "tickColor": "#800080", "domain": false, "labelPadding": 8, "title": ["Pinned Interface", "Fraction"], "titleColor": "#800080", "titleAngle": 270, "titlePadding": 7, "titleLineHeight": 22}}}},
    {"data": {"values": [{}]},
     "mark": {"type": "text", "align": "right", "baseline": "top", "dx": -6, "dy": 5},
     "encoding": {"x": {"datum": 300000, "type": "quantitative"}, "y": {"datum": 1, "type": "quantitative", "scale": {"domain": [0, 1], "nice": false}, "axis": null}, "text": {"value": "(d)"}}}
   ],
   "resolve": {"scale": {"y": "independent"}}
  }
 ],
 "spacing": 33.5,
 "bounds": "flush"
}
]
}
